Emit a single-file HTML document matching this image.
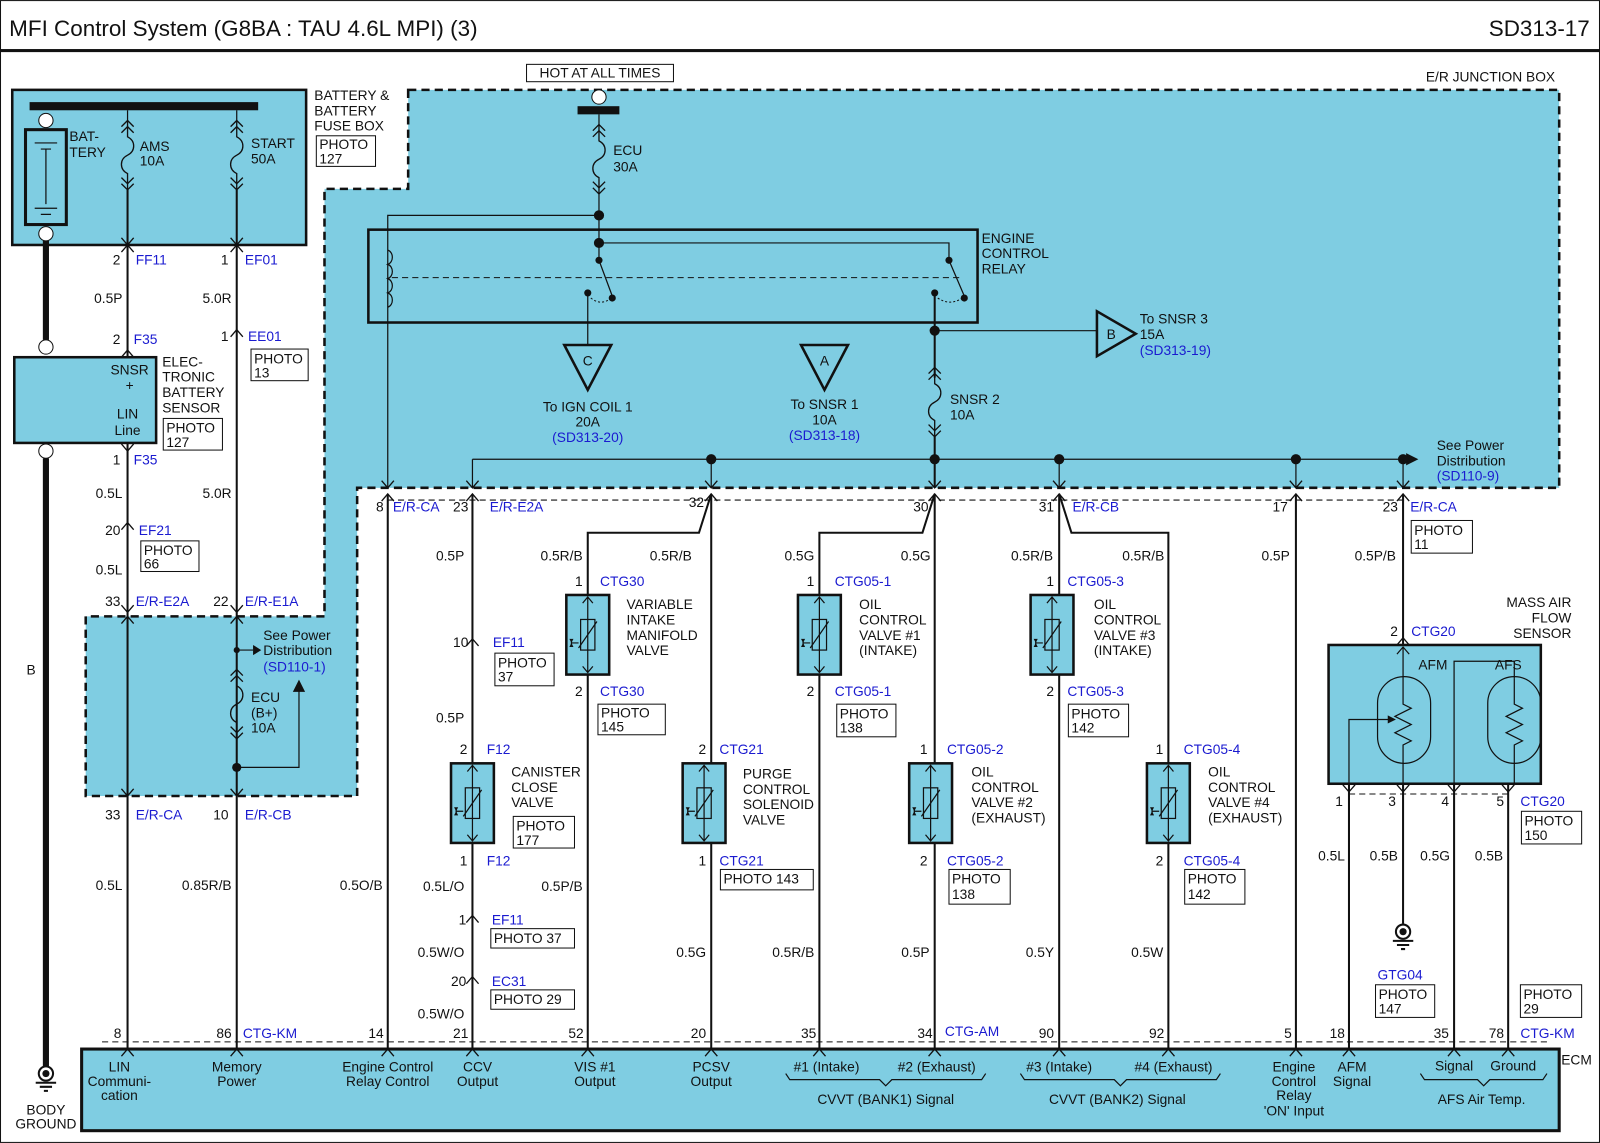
<!DOCTYPE html>
<html><head><meta charset="utf-8"><style>
html,body{margin:0;padding:0;background:#fff}
svg{display:block}
text{font-family:"Liberation Sans",Arial,sans-serif;font-size:13.5px;fill:#111}
.b{fill:#1a1ad0}
.m{text-anchor:middle}
.r{text-anchor:end}
.w{stroke:#111;stroke-width:2;fill:none}
.t{stroke:#111;stroke-width:1.2;fill:none}
</style></head><body>
<svg width="1600" height="1143" viewBox="0 0 1568 1120" xmlns="http://www.w3.org/2000/svg">
<defs>
<symbol id="dn" overflow="visible"><path d="M-6,-7 L0,0 L6,-7" fill="none" stroke="#111" stroke-width="1.3"/></symbol>
<symbol id="up" overflow="visible"><path d="M-6,7 L0,0 L6,7" fill="none" stroke="#111" stroke-width="1.3"/></symbol>
<symbol id="fuse" overflow="visible">
<path d="M-6,-4 L0,-10 L6,-4 M-6,2 L0,-4 L6,2" fill="none" stroke="#111" stroke-width="1.3"/>
<path d="M0,-10 L0,6 C8,10 8,20 0,24 C-8,28 -8,38 0,42 L0,58" fill="none" stroke="#111" stroke-width="1.3"/>
<path d="M-6,46 L0,52 L6,46 M-6,52 L0,58 L6,52" fill="none" stroke="#111" stroke-width="1.3"/>
</symbol>
<symbol id="valve" overflow="visible">
<rect x="-21" y="0" width="42" height="78" fill="#7fcde2" stroke="#111" stroke-width="2.5"/>
<path d="M0,2 L0,76 M-5,8 L0,2 L5,8 M-5,70 L0,76 L5,70" fill="none" stroke="#111" stroke-width="1.2"/>
<rect x="-7" y="24" width="14" height="30" fill="none" stroke="#111" stroke-width="1.2"/>
<path d="M-9,52 L9,26 M-16,44 L-16,50 M-16,47 L-9,47" fill="none" stroke="#111" stroke-width="1.2"/>
<path d="M-18,43 L-14,43 L-16,47 Z M-18,51 L-14,51 L-16,47 Z" fill="#111"/>
</symbol>
<symbol id="gnd" overflow="visible">
<circle cx="0" cy="0" r="7" fill="none" stroke="#111" stroke-width="2"/><circle cx="0" cy="0" r="3.5" fill="#111"/>
<path d="M-10,9 L10,9 M-6,13 L6,13 M-2,17 L2,17" stroke="#111" stroke-width="2"/>
</symbol>
</defs>
<rect x="0.5" y="0.5" width="1567" height="1119" fill="none" stroke="#111"/>
<text x="9" y="35" style="font-size:22px">MFI Control System (G8BA : TAU 4.6L MPI) (3)</text>
<text x="1558" y="35" class="r" style="font-size:22px">SD313-17</text>
<rect x="0" y="48" width="1568" height="3" fill="#111"/>

<path d="M400,88 L1528,88 L1528,478 L350,478 L350,780 L84,780 L84,604 L318,604 L318,185 L400,185 Z" fill="#7fcde2" stroke="#111" stroke-width="2.5" stroke-dasharray="8,5"/>
<rect x="516" y="63" width="144" height="17" fill="#fff" stroke="#111"/>
<text x="588" y="76" class="m">HOT AT ALL TIMES</text>
<text x="1524" y="80" class="r">E/R JUNCTION BOX</text>

<rect x="12" y="88" width="288" height="152" fill="#7fcde2" stroke="#111" stroke-width="2.5"/>
<rect x="29" y="100" width="224" height="8" fill="#111"/>
<rect x="25" y="127" width="40" height="93" fill="none" stroke="#111" stroke-width="3"/>
<path d="M34,140 L56,140 M40,146 L50,146 M45,146 L45,200 M34,204 L56,204 M40,210 L50,210" stroke="#111" stroke-width="1.2"/>
<circle cx="45" cy="118" r="7" fill="#fff" stroke="#111"/>
<circle cx="45" cy="229" r="7" fill="#fff" stroke="#111"/>
<text x="68" y="138">BAT-</text><text x="68" y="154">TERY</text>
<use href="#fuse" x="125" y="128"/><use href="#fuse" x="232" y="128"/>
<line x1="125" y1="108" x2="125" y2="118" class="t"/><line x1="232" y1="108" x2="232" y2="118" class="t"/>
<text x="137" y="148">AMS</text><text x="137" y="162">10A</text>
<text x="246" y="145">START</text><text x="246" y="160">50A</text>
<text x="308" y="98">BATTERY &amp;</text><text x="308" y="113">BATTERY</text><text x="308" y="128">FUSE BOX</text>
<rect x="310" y="133" width="58" height="30" fill="#fff" stroke="#111"/><text x="313" y="146">PHOTO</text><text x="313" y="160">127</text>

<line x1="45" y1="236" x2="45" y2="333" stroke="#111" stroke-width="6"/>
<circle cx="45" cy="340" r="7" fill="#fff" stroke="#111"/>
<rect x="14" y="350" width="139" height="84" fill="#7fcde2" stroke="#111" stroke-width="2.5"/>
<circle cx="45" cy="442" r="7" fill="#fff" stroke="#111"/>
<line x1="45" y1="449" x2="45" y2="1045" stroke="#111" stroke-width="6"/>
<use href="#gnd" x="45" y="1052"/>
<text x="45" y="1092" class="m">BODY</text><text x="45" y="1106" class="m">GROUND</text>
<text x="26" y="661">B</text>
<line x1="125" y1="186" x2="125" y2="350" class="w"/>
<line x1="125" y1="434" x2="125" y2="1028" class="w"/>
<line x1="232" y1="186" x2="232" y2="1028" class="w"/>
<use href="#dn" x="125" y="240"/><use href="#dn" x="232" y="240"/>
<use href="#up" x="125" y="240"/><use href="#up" x="232" y="240"/>
<text x="118" y="259" class="r">2</text><text x="133" y="259" class="b">FF11</text>
<text x="224" y="259" class="r">1</text><text x="240" y="259" class="b">EF01</text>
<text x="120" y="297" class="r">0.5P</text><text x="227" y="297" class="r">5.0R</text>
<use href="#up" x="125" y="343"/><use href="#up" x="232" y="323"/>
<text x="118" y="337" class="r">2</text><text x="131" y="337" class="b">F35</text>
<text x="224" y="334" class="r">1</text><text x="243" y="334" class="b">EE01</text>
<rect x="246" y="342" width="56" height="31" fill="#fff" stroke="#111"/><text x="249" y="356">PHOTO</text><text x="249" y="370">13</text>
<text x="127" y="367" class="m">SNSR</text><text x="127" y="382" class="m">+</text>
<text x="125" y="410" class="m">LIN</text><text x="125" y="426" class="m">Line</text>
<text x="159" y="359">ELEC-</text><text x="159" y="374">TRONIC</text><text x="159" y="389">BATTERY</text><text x="159" y="404">SENSOR</text>
<rect x="160" y="410" width="58" height="31" fill="#fff" stroke="#111"/><text x="163" y="424">PHOTO</text><text x="163" y="438">127</text>
<use href="#dn" x="125" y="442"/>
<text x="118" y="455" class="r">1</text><text x="131" y="455" class="b">F35</text>
<text x="120" y="488" class="r">0.5L</text><text x="227" y="488" class="r">5.0R</text>
<use href="#up" x="125" y="512"/>
<text x="118" y="524" class="r">20</text><text x="136" y="524" class="b">EF21</text>
<rect x="138" y="530" width="57" height="30" fill="#fff" stroke="#111"/><text x="141" y="544">PHOTO</text><text x="141" y="557">66</text>
<text x="120" y="563" class="r">0.5L</text>
<use href="#dn" x="125" y="600"/><use href="#dn" x="232" y="600"/>
<use href="#up" x="125" y="604"/><use href="#up" x="232" y="604"/>
<text x="118" y="594" class="r">33</text><text x="133" y="594" class="b">E/R-E2A</text>
<text x="224" y="594" class="r">22</text><text x="240" y="594" class="b">E/R-E1A</text>
<line x1="232" y1="637" x2="248" y2="637" class="t"/><path d="M248,632 L256,637 L248,642 Z" fill="#111"/>
<circle cx="232" cy="637" r="3" fill="#111"/>
<text x="258" y="627">See Power</text><text x="258" y="642">Distribution</text><text x="258" y="658" class="b">(SD110-1)</text>
<use href="#fuse" x="232" y="666"/>
<text x="246" y="688">ECU</text><text x="246" y="703">(B+)</text><text x="246" y="718">10A</text>
<circle cx="232" cy="752" r="4.5" fill="#111"/>
<path d="M232,752 L293,752 L293,676" class="t"/><path d="M287,678 L293,666 L299,678 Z" fill="#111"/>
<use href="#dn" x="125" y="780"/><use href="#dn" x="232" y="780"/>
<text x="118" y="803" class="r">33</text><text x="133" y="803" class="b">E/R-CA</text>
<text x="224" y="803" class="r">10</text><text x="240" y="803" class="b">E/R-CB</text>
<text x="120" y="872" class="r">0.5L</text><text x="227" y="872" class="r">0.85R/B</text><text x="375" y="872" class="r">0.5O/B</text>

<circle cx="587" cy="95" r="7" fill="#fff" stroke="#111"/>
<rect x="566" y="104" width="41" height="8" fill="#111"/>
<use href="#fuse" x="587" y="132"/>
<line x1="587" y1="112" x2="587" y2="122" class="t"/>
<text x="601" y="152">ECU</text><text x="601" y="168">30A</text>
<line x1="587" y1="190" x2="587" y2="255" class="t"/>
<circle cx="587" cy="211" r="5" fill="#111"/>
<path d="M587,211 L380,211 L380,478" class="t"/>
<rect x="361" y="225" width="597" height="91" fill="none" stroke="#111" stroke-width="2.5"/>
<path d="M380,245 c6,2 6,12 0,14 c6,2 6,12 0,14 c6,2 6,12 0,14 c6,2 6,12 0,14" class="t"/>
<line x1="384" y1="272" x2="940" y2="272" stroke="#111" stroke-dasharray="6,4"/>
<circle cx="587" cy="238" r="5" fill="#111"/>
<path d="M587,238 L930,238 L930,255" class="t"/>
<circle cx="587" cy="255" r="3.5" fill="#111"/><circle cx="930" cy="255" r="3.5" fill="#111"/>
<path d="M587,255 L600,290 M930,255 L945,290" class="t"/>
<circle cx="600" cy="292" r="3.5" fill="#111"/><circle cx="945" cy="292" r="3.5" fill="#111"/>
<circle cx="576" cy="287" r="3.5" fill="#111"/><circle cx="916" cy="287" r="3.5" fill="#111"/>
<path d="M579,292 q10,8 20,0 M919,292 q12,8 24,0" fill="none" stroke="#111" stroke-dasharray="2,2"/>
<text x="962" y="238">ENGINE</text><text x="962" y="253">CONTROL</text><text x="962" y="268">RELAY</text>
<line x1="576" y1="287" x2="576" y2="338" class="t"/>
<path d="M553,338 L599,338 L576,382 Z" fill="none" stroke="#111" stroke-width="2.5"/><text x="576" y="358" class="m">C</text>
<text x="576" y="403" class="m">To IGN COIL 1</text><text x="576" y="418" class="m">20A</text><text x="576" y="433" class="m b">(SD313-20)</text>
<path d="M785,338 L831,338 L808,382 Z" fill="none" stroke="#111" stroke-width="2.5"/><text x="808" y="358" class="m">A</text>
<text x="808" y="401" class="m">To SNSR 1</text><text x="808" y="416" class="m">10A</text><text x="808" y="431" class="m b">(SD313-18)</text>
<line x1="916" y1="287" x2="916" y2="370" class="w"/>
<circle cx="916" cy="324" r="5" fill="#111"/>
<line x1="916" y1="324" x2="1075" y2="324" class="t"/>
<path d="M1075,305 L1075,349 L1113,327 Z" fill="none" stroke="#111" stroke-width="2.5"/><text x="1089" y="332" class="m">B</text>
<text x="1117" y="317">To SNSR 3</text><text x="1117" y="332">15A</text><text x="1117" y="348" class="b">(SD313-19)</text>
<use href="#fuse" x="916" y="370"/>
<text x="931" y="396">SNSR 2</text><text x="931" y="411">10A</text>
<line x1="916" y1="428" x2="916" y2="478" class="w"/>
<line x1="463" y1="450" x2="1380" y2="450" class="t"/>
<path d="M1378,444 L1390,450 L1378,456 Z" fill="#111"/>
<text x="1408" y="441">See Power</text><text x="1408" y="456">Distribution</text><text x="1408" y="471" class="b">(SD110-9)</text>
<circle cx="697" cy="450" r="5" fill="#111"/><circle cx="916" cy="450" r="5" fill="#111"/><circle cx="1038" cy="450" r="5" fill="#111"/><circle cx="1270" cy="450" r="5" fill="#111"/><circle cx="1375" cy="450" r="5" fill="#111"/>
<g class="t"><line x1="463" y1="450" x2="463" y2="478"/><line x1="697" y1="450" x2="697" y2="478"/><line x1="1038" y1="450" x2="1038" y2="478"/><line x1="1270" y1="450" x2="1270" y2="478"/><line x1="1375" y1="450" x2="1375" y2="478"/></g>
<use href="#dn" x="380" y="478"/><use href="#dn" x="463" y="478"/><use href="#dn" x="697" y="478"/><use href="#dn" x="916" y="478"/><use href="#dn" x="1038" y="478"/><use href="#dn" x="1270" y="478"/><use href="#dn" x="1375" y="478"/>
<use href="#up" x="697" y="484"/><use href="#up" x="916" y="484"/><use href="#up" x="1038" y="484"/><use href="#up" x="1270" y="484"/><use href="#up" x="1375" y="484"/><use href="#up" x="380" y="484"/><use href="#up" x="463" y="484"/>
<line x1="380" y1="490" x2="1380" y2="490" stroke="#111" stroke-dasharray="6,4"/>
<text x="376" y="501" class="r">8</text><text x="385" y="501" class="b">E/R-CA</text>
<text x="459" y="501" class="r">23</text><text x="480" y="501" class="b">E/R-E2A</text>
<text x="690" y="497" class="r">32</text><text x="910" y="501" class="r">30</text>
<text x="1033" y="501" class="r">31</text><text x="1051" y="501" class="b">E/R-CB</text>
<text x="1262" y="501" class="r">17</text>
<text x="1370" y="501" class="r">23</text><text x="1382" y="501" class="b">E/R-CA</text>
<rect x="1383" y="510" width="60" height="32" fill="#fff" stroke="#111"/><text x="1386" y="524">PHOTO</text><text x="1386" y="538">11</text>

<g class="w">
<line x1="380" y1="484" x2="380" y2="1028"/>
<line x1="463" y1="484" x2="463" y2="748"/><line x1="463" y1="826" x2="463" y2="1028"/>
<path d="M697,484 L685,522 L576,522 L576,583"/>
<line x1="697" y1="484" x2="697" y2="748"/><line x1="697" y1="826" x2="697" y2="1028"/>
<line x1="576" y1="661" x2="576" y2="1028"/>
<path d="M916,484 L904,522 L803,522 L803,583"/>
<line x1="916" y1="484" x2="916" y2="748"/><line x1="916" y1="826" x2="916" y2="1028"/>
<line x1="803" y1="661" x2="803" y2="1028"/>
<path d="M1038,484 L1050,522 L1145,522 L1145,748"/>
<line x1="1038" y1="484" x2="1038" y2="583"/><line x1="1038" y1="661" x2="1038" y2="1028"/>
<line x1="1145" y1="826" x2="1145" y2="1028"/>
<line x1="1270" y1="484" x2="1270" y2="1028"/>
<line x1="1375" y1="484" x2="1375" y2="632"/>
<line x1="1322" y1="768" x2="1322" y2="1028"/>
<line x1="1375" y1="768" x2="1375" y2="905"/>
<line x1="1425" y1="768" x2="1425" y2="1028"/>
<line x1="1478" y1="768" x2="1478" y2="1028"/>
</g>
<use href="#gnd" x="1375" y="913"/>

<text x="455" y="549" class="r">0.5P</text><text x="571" y="549" class="r">0.5R/B</text><text x="678" y="549" class="r">0.5R/B</text>
<text x="798" y="549" class="r">0.5G</text><text x="912" y="549" class="r">0.5G</text>
<text x="1032" y="549" class="r">0.5R/B</text><text x="1141" y="549" class="r">0.5R/B</text>
<text x="1264" y="549" class="r">0.5P</text><text x="1368" y="549" class="r">0.5P/B</text>

<use href="#valve" x="576" y="583"/><use href="#valve" x="803" y="583"/><use href="#valve" x="1031" y="583"/>
<use href="#valve" x="463" y="748"/><use href="#valve" x="690" y="748"/><use href="#valve" x="912" y="748"/><use href="#valve" x="1145" y="748"/>

<text x="571" y="574" class="r">1</text><text x="588" y="574" class="b">CTG30</text>
<text x="614" y="597">VARIABLE</text><text x="614" y="612">INTAKE</text><text x="614" y="627">MANIFOLD</text><text x="614" y="642">VALVE</text>
<text x="571" y="682" class="r">2</text><text x="588" y="682" class="b">CTG30</text>
<rect x="586" y="690" width="66" height="30" fill="#fff" stroke="#111"/><text x="589" y="703">PHOTO</text><text x="589" y="717">145</text>

<use href="#up" x="463" y="626"/>
<text x="459" y="634" class="r">10</text><text x="483" y="634" class="b">EF11</text>
<rect x="485" y="640" width="58" height="32" fill="#fff" stroke="#111"/><text x="488" y="654">PHOTO</text><text x="488" y="668">37</text>
<text x="455" y="708" class="r">0.5P</text>
<text x="458" y="739" class="r">2</text><text x="477" y="739" class="b">F12</text>
<text x="501" y="761">CANISTER</text><text x="501" y="776">CLOSE</text><text x="501" y="791">VALVE</text>
<rect x="503" y="800" width="60" height="31" fill="#fff" stroke="#111"/><text x="506" y="814">PHOTO</text><text x="506" y="828">177</text>
<text x="458" y="848" class="r">1</text><text x="477" y="848" class="b">F12</text>
<text x="455" y="873" class="r">0.5L/O</text><text x="571" y="873" class="r">0.5P/B</text>
<use href="#up" x="463" y="897"/>
<text x="457" y="906" class="r">1</text><text x="482" y="906" class="b">EF11</text>
<rect x="481" y="910" width="82" height="19" fill="#fff" stroke="#111"/><text x="484" y="924">PHOTO 37</text>
<text x="455" y="938" class="r">0.5W/O</text>
<use href="#up" x="463" y="957"/>
<text x="457" y="966" class="r">20</text><text x="482" y="966" class="b">EC31</text>
<rect x="481" y="970" width="82" height="19" fill="#fff" stroke="#111"/><text x="484" y="984">PHOTO 29</text>
<text x="455" y="998" class="r">0.5W/O</text>

<text x="692" y="739" class="r">2</text><text x="705" y="739" class="b">CTG21</text>
<text x="728" y="763">PURGE</text><text x="728" y="778">CONTROL</text><text x="728" y="793">SOLENOID</text><text x="728" y="808">VALVE</text>
<text x="692" y="848" class="r">1</text><text x="705" y="848" class="b">CTG21</text>
<rect x="706" y="852" width="91" height="20" fill="#fff" stroke="#111"/><text x="709" y="866">PHOTO 143</text>
<text x="692" y="938" class="r">0.5G</text><text x="798" y="938" class="r">0.5R/B</text><text x="911" y="938" class="r">0.5P</text>
<text x="1033" y="938" class="r">0.5Y</text><text x="1140" y="938" class="r">0.5W</text>

<text x="798" y="574" class="r">1</text><text x="818" y="574" class="b">CTG05-1</text>
<text x="842" y="597">OIL</text><text x="842" y="612">CONTROL</text><text x="842" y="627">VALVE #1</text><text x="842" y="642">(INTAKE)</text>
<text x="798" y="682" class="r">2</text><text x="818" y="682" class="b">CTG05-1</text>
<rect x="820" y="690" width="58" height="32" fill="#fff" stroke="#111"/><text x="823" y="704">PHOTO</text><text x="823" y="718">138</text>

<text x="909" y="739" class="r">1</text><text x="928" y="739" class="b">CTG05-2</text>
<text x="952" y="761">OIL</text><text x="952" y="776">CONTROL</text><text x="952" y="791">VALVE #2</text><text x="952" y="806">(EXHAUST)</text>
<text x="909" y="848" class="r">2</text><text x="928" y="848" class="b">CTG05-2</text>
<rect x="930" y="852" width="60" height="34" fill="#fff" stroke="#111"/><text x="933" y="866">PHOTO</text><text x="933" y="881">138</text>

<text x="1033" y="574" class="r">1</text><text x="1046" y="574" class="b">CTG05-3</text>
<text x="1072" y="597">OIL</text><text x="1072" y="612">CONTROL</text><text x="1072" y="627">VALVE #3</text><text x="1072" y="642">(INTAKE)</text>
<text x="1033" y="682" class="r">2</text><text x="1046" y="682" class="b">CTG05-3</text>
<rect x="1047" y="690" width="59" height="32" fill="#fff" stroke="#111"/><text x="1050" y="704">PHOTO</text><text x="1050" y="718">142</text>

<text x="1140" y="739" class="r">1</text><text x="1160" y="739" class="b">CTG05-4</text>
<text x="1184" y="761">OIL</text><text x="1184" y="776">CONTROL</text><text x="1184" y="791">VALVE #4</text><text x="1184" y="806">(EXHAUST)</text>
<text x="1140" y="848" class="r">2</text><text x="1160" y="848" class="b">CTG05-4</text>
<rect x="1161" y="852" width="59" height="34" fill="#fff" stroke="#111"/><text x="1164" y="866">PHOTO</text><text x="1164" y="881">142</text>

<text x="1540" y="595" class="r">MASS AIR</text><text x="1540" y="610" class="r">FLOW</text><text x="1540" y="625" class="r">SENSOR</text>
<text x="1370" y="623" class="r">2</text><text x="1383" y="623" class="b">CTG20</text>
<rect x="1302" y="632" width="208" height="136" fill="#7fcde2" stroke="#111" stroke-width="2.5"/>
<rect x="1350" y="663" width="52" height="85" rx="26" fill="none" stroke="#111" stroke-width="1.2"/>
<rect x="1458" y="663" width="52" height="85" rx="26" fill="none" stroke="#111" stroke-width="1.2"/>
<path d="M1375,634 L1375,690 l8,4 l-16,8 l16,8 l-16,8 l16,8 l-8,4 L1375,768" class="t"/>
<path d="M1484,665 L1484,690 l8,4 l-16,8 l16,8 l-16,8 l16,8 l-8,4 L1484,768" class="t"/>
<path d="M1425,768 L1425,648 L1484,648 L1484,665" class="t"/>
<path d="M1322,768 L1322,705 L1363,705" class="t"/><path d="M1360,701 L1368,705 L1360,709 Z" fill="#111"/>
<path d="M1369,641 L1375,634 L1381,641" class="t"/>
<text x="1390" y="656">AFM</text><text x="1465" y="656">AFS</text>
<use href="#up" x="1375" y="625"/>
<use href="#dn" x="1322" y="776"/><use href="#dn" x="1375" y="776"/><use href="#dn" x="1425" y="776"/><use href="#dn" x="1478" y="776"/>
<line x1="1322" y1="778" x2="1478" y2="778" stroke="#111" stroke-dasharray="6,4"/>
<text x="1316" y="790" class="r">1</text><text x="1368" y="790" class="r">3</text><text x="1420" y="790" class="r">4</text><text x="1474" y="790" class="r">5</text><text x="1490" y="790" class="b">CTG20</text>
<rect x="1491" y="795" width="59" height="32" fill="#fff" stroke="#111"/><text x="1494" y="809">PHOTO</text><text x="1494" y="823">150</text>
<text x="1318" y="843" class="r">0.5L</text><text x="1370" y="843" class="r">0.5B</text><text x="1421" y="843" class="r">0.5G</text><text x="1473" y="843" class="r">0.5B</text>
<text x="1350" y="960" class="b">GTG04</text>
<rect x="1348" y="965" width="58" height="32" fill="#fff" stroke="#111"/><text x="1351" y="979">PHOTO</text><text x="1351" y="993">147</text>
<rect x="1490" y="965" width="60" height="32" fill="#fff" stroke="#111"/><text x="1493" y="979">PHOTO</text><text x="1493" y="993">29</text>

<line x1="100" y1="1021" x2="1520" y2="1021" stroke="#111" stroke-dasharray="6,4"/>
<rect x="80" y="1028" width="1448" height="80" fill="#7fcde2" stroke="#111" stroke-width="3"/>
<g>
<use href="#up" x="125" y="1028"/><use href="#up" x="232" y="1028"/><use href="#up" x="380" y="1028"/><use href="#up" x="463" y="1028"/><use href="#up" x="576" y="1028"/><use href="#up" x="697" y="1028"/><use href="#up" x="803" y="1028"/><use href="#up" x="916" y="1028"/><use href="#up" x="1038" y="1028"/><use href="#up" x="1145" y="1028"/><use href="#up" x="1270" y="1028"/><use href="#up" x="1322" y="1028"/><use href="#up" x="1425" y="1028"/><use href="#up" x="1478" y="1028"/>
</g>
<text x="119" y="1017" class="r">8</text><text x="227" y="1017" class="r">86</text><text x="238" y="1017" class="b">CTG-KM</text>
<text x="376" y="1017" class="r">14</text><text x="459" y="1017" class="r">21</text><text x="572" y="1017" class="r">52</text>
<text x="692" y="1017" class="r">20</text><text x="800" y="1017" class="r">35</text><text x="914" y="1017" class="r">34</text><text x="926" y="1015" class="b">CTG-AM</text>
<text x="1033" y="1017" class="r">90</text><text x="1141" y="1017" class="r">92</text><text x="1266" y="1017" class="r">5</text>
<text x="1318" y="1017" class="r">18</text><text x="1420" y="1017" class="r">35</text><text x="1474" y="1017" class="r">78</text><text x="1490" y="1017" class="b">CTG-KM</text>
<text x="1530" y="1043">ECM</text>
<text x="117" y="1050" class="m">LIN</text><text x="117" y="1064" class="m">Communi-</text><text x="117" y="1078" class="m">cation</text>
<text x="232" y="1050" class="m">Memory</text><text x="232" y="1064" class="m">Power</text>
<text x="380" y="1050" class="m">Engine Control</text><text x="380" y="1064" class="m">Relay Control</text>
<text x="468" y="1050" class="m">CCV</text><text x="468" y="1064" class="m">Output</text>
<text x="583" y="1050" class="m">VIS #1</text><text x="583" y="1064" class="m">Output</text>
<text x="697" y="1050" class="m">PCSV</text><text x="697" y="1064" class="m">Output</text>
<text x="810" y="1050" class="m">#1 (Intake)</text><text x="918" y="1050" class="m">#2 (Exhaust)</text>
<path d="M770,1052 l4,6 l88,0 l6,6 l6,-6 l88,0 l4,-6" class="t"/>
<text x="868" y="1082" class="m">CVVT (BANK1) Signal</text>
<text x="1038" y="1050" class="m">#3 (Intake)</text><text x="1150" y="1050" class="m">#4 (Exhaust)</text>
<path d="M1000,1052 l4,6 l88,0 l6,6 l6,-6 l88,0 l4,-6" class="t"/>
<text x="1095" y="1082" class="m">CVVT (BANK2) Signal</text>
<text x="1268" y="1050" class="m">Engine</text><text x="1268" y="1064" class="m">Control</text><text x="1268" y="1078" class="m">Relay</text><text x="1268" y="1093" class="m">'ON' Input</text>
<text x="1325" y="1050" class="m">AFM</text><text x="1325" y="1064" class="m">Signal</text>
<text x="1425" y="1049" class="m">Signal</text><text x="1483" y="1049" class="m">Ground</text>
<path d="M1392,1052 l4,6 l52,0 l6,6 l6,-6 l52,0 l4,-6" class="t"/>
<text x="1452" y="1082" class="m">AFS Air Temp.</text>
</svg>
</body></html>
